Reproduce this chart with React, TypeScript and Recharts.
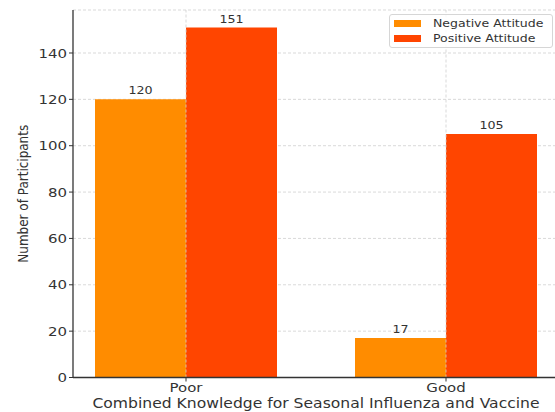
import React from 'react';
import { BarChart, Bar, XAxis, YAxis, CartesianGrid, Legend, LabelList, ReferenceLine } from 'recharts';

const categories = ['Poor', 'Good'];
const negativeAttitude = [120, 17];
const positiveAttitude = [151, 105];
const yTicks = [0, 20, 40, 60, 80, 100, 120, 140];
const yMax = 158.55;

const data = categories.map((name, i) => ({
    name,
    negative: negativeAttitude[i],
    positive: positiveAttitude[i],
}));

const FONT = '"DejaVu Sans", sans-serif';
const INK = '#333';
const GRID = '#cfcfcf';
const STRETCH = 1.15;

const YTick = ({ x, y, payload }: any) => (
    <g transform={`translate(${x},${y}) scale(${STRETCH},1)`}>
        <text textAnchor="end" dy={4.6} fontSize={13} fontFamily={FONT} fill={INK}>{payload.value}</text>
    </g>
);

const XTick = ({ x, y, payload }: any) => (
    <g transform={`translate(${x},${y}) scale(${STRETCH},1)`}>
        <text textAnchor="middle" dy={8} fontSize={13} fontFamily={FONT} fill={INK}>{payload.value}</text>
    </g>
);

const XTitle = ({ viewBox }: any) => (
    <g transform={`translate(${viewBox.x + viewBox.width / 2},${viewBox.y + 30}) scale(1.13,1)`}>
        <text textAnchor="middle" fontSize={13.8} fontFamily={FONT} fill={INK}>
            Combined Knowledge for Seasonal Influenza and Vaccine
        </text>
    </g>
);

const YTitle = ({ viewBox }: any) => (
    <g transform={`translate(${viewBox.x + 28},${viewBox.y + viewBox.height / 2}) scale(${STRETCH},1) rotate(-90)`}>
        <text textAnchor="middle" fontSize={12} fontFamily={FONT} fill={INK}>Number of Participants</text>
    </g>
);

const ValueLabel = ({ x, y, width, value }: any) => (
    <g transform={`translate(${x + width / 2},${y - 5}) scale(${STRETCH},1)`}>
        <text textAnchor="middle" fontSize={11} fontFamily={FONT} fill={INK}>{value}</text>
    </g>
);

const LegendBox = ({ payload }: any) => (
    <div style={{
        border: '1px solid #d6d6d6', borderRadius: 3, background: 'rgba(255,255,255,0.85)',
        padding: '1px 0 1px 4px', width: 164, height: 34, boxSizing: 'border-box',
    }}>
        {(payload || []).map((p: any) => (
            <div key={p.value} style={{ display: 'flex', alignItems: 'center', height: 15 }}>
                <span style={{ width: 27, height: 7, background: p.color, marginRight: 12, flex: 'none' }} />
                <span style={{
                    fontSize: 11.2, fontFamily: FONT, color: INK, display: 'inline-block',
                    transform: 'scaleX(1.12)', transformOrigin: 'left center', whiteSpace: 'nowrap',
                }}>{p.value}</span>
            </div>
        ))}
    </div>
);

export default function App() {
    return (
        <div style={{ position: 'absolute', left: 0, top: 0, width: 555, height: 412, overflow: 'hidden', background: '#fff' }}>
            <BarChart width={580} height={412} data={data} margin={{ top: 10, right: 21, left: 0, bottom: 0 }} barGap={0} barSize={91}>
                <CartesianGrid stroke={GRID} strokeDasharray="3 2" strokeWidth={0.8} vertical={false} />
                {/* vertical grid through the middle of each category */}
                {categories.map(c => (
                    <ReferenceLine key={c} x={c} stroke={GRID} strokeDasharray="3 2" strokeWidth={0.8} />
                ))}
                <XAxis
                    dataKey="name"
                    height={34.5}
                    padding={{ left: -17, right: -17 }}
                    tick={<XTick />}
                    tickSize={4}
                    axisLine={{ stroke: INK, strokeWidth: 1.3 }}
                    tickLine={{ stroke: INK, strokeWidth: 1 }}
                    label={<XTitle />}
                />
                <YAxis
                    width={73}
                    domain={[0, yMax]}
                    ticks={yTicks}
                    tick={<YTick />}
                    tickSize={4}
                    axisLine={{ stroke: INK, strokeWidth: 1.3 }}
                    tickLine={{ stroke: INK, strokeWidth: 1 }}
                    label={<YTitle />}
                />
                <Legend
                    layout="horizontal"
                    verticalAlign="middle"
                    align="center"
                    content={<LegendBox />}
                    wrapperStyle={{ top: 14, left: 389, width: 164 }}
                />
                <Bar dataKey="negative" name="Negative Attitude" fill="#FF8C00" isAnimationActive={false}>
                    <LabelList dataKey="negative" content={<ValueLabel />} />
                </Bar>
                <Bar dataKey="positive" name="Positive Attitude" fill="#FF4500" isAnimationActive={false}>
                    <LabelList dataKey="positive" content={<ValueLabel />} />
                </Bar>
            </BarChart>
        </div>
    );
}
